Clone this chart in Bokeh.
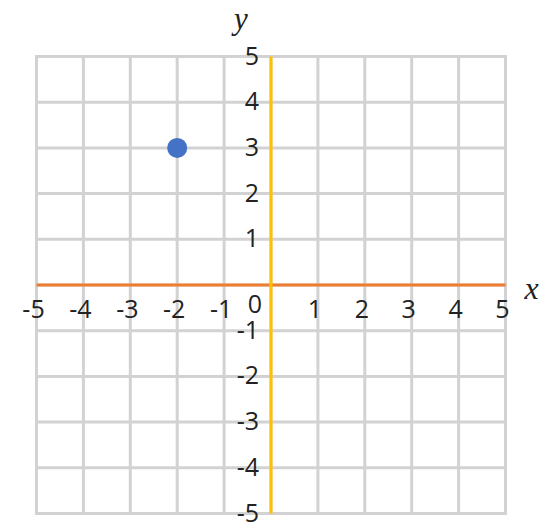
from bokeh.plotting import figure
from bokeh.models import Range1d
from bokeh.core.properties import value
from bokeh.embed import file_html
from bokeh.resources import INLINE

# ---- data ----
x_ticks = [-5, -4, -3, -2, -1, 0, 1, 2, 3, 4, 5]
y_ticks = [-5, -4, -3, -2, -1, 0, 1, 2, 3, 4, 5]
x_tick_labels = ["-5", "-4", "-3", "-2", "-1", "0", "1", "2", "3", "4", "5"]
y_tick_labels = ["-5", "-4", "-3", "-2", "-1", "0", "1", "2", "3", "4", "5"]
point_x = [-2]
point_y = [3]
x_title = "x"
y_title = "y"

# ---- layout ----
W, H = 552, 522
sx, sy = 46.9, 45.7            # pixels per unit
x_lo = -5 - 36 / sx
x_hi = x_lo + W / sx
y_hi = 5 + 56 / sy
y_lo = y_hi - H / sy

p = figure(width=W, height=H, x_range=Range1d(x_lo, x_hi), y_range=Range1d(y_lo, y_hi),
           output_backend="svg", toolbar_location=None, min_border=0,
           x_axis_type=None, y_axis_type=None, outline_line_color=None,
           background_fill_color="white", border_fill_color="white")
p.grid.visible = False

xmin, xmax = min(x_ticks), max(x_ticks)
ymin, ymax = min(y_ticks), max(y_ticks)

GRID = "#d2d2d2"
# vertical grid lines
p.segment(x0=x_ticks, y0=[ymin] * len(x_ticks), x1=x_ticks, y1=[ymax] * len(x_ticks),
          line_color=GRID, line_width=3, line_cap="square")
# horizontal grid lines
p.segment(x0=[xmin] * len(y_ticks), y0=y_ticks, x1=[xmax] * len(y_ticks), y1=y_ticks,
          line_color=GRID, line_width=3, line_cap="square")

# axes lines
p.segment(x0=[xmin], y0=[0], x1=[xmax], y1=[0], line_color="#ed7d31", line_width=3)
p.segment(x0=[0], y0=[ymin], x1=[0], y1=[ymax], line_color="#ffc000", line_width=3)

# point
p.scatter(point_x, point_y, size=20, fill_color="#4472c4", line_color=None)

FONT = value("Open Sans")
FS = "25px"
TC = "#222222"

# x tick labels (excluding 0)
xl = [(t, s) for t, s in zip(x_ticks, x_tick_labels) if t != 0]
p.text(x=[t for t, _ in xl], y=[0] * len(xl), text=[s for _, s in xl],
       text_align="center", text_baseline="middle", x_offset=-3, y_offset=24,
       text_font=FONT, text_font_size=FS, text_color=TC)

# y tick labels (excluding 0)
yl = [(t, s) for t, s in zip(y_ticks, y_tick_labels) if t != 0]
p.text(x=[0] * len(yl), y=[t for t, _ in yl], text=[s for _, s in yl],
       text_align="right", text_baseline="middle", x_offset=-12, y_offset=-1,
       text_font=FONT, text_font_size=FS, text_color=TC)

# origin label
p.text(x=[0], y=[0], text=[x_tick_labels[x_ticks.index(0)]],
       text_align="center", text_baseline="middle", x_offset=-16, y_offset=19,
       text_font=FONT, text_font_size=FS, text_color=TC)

# axis titles
p.text(x=[0], y=[ymax], text=[y_title], text_align="center", text_baseline="middle",
       x_offset=-30, y_offset=-38, text_font=value("Liberation Serif"),
       text_font_style="italic", text_font_size="31px", text_color=TC)
p.text(x=[xmax], y=[0], text=[x_title], text_align="center", text_baseline="middle",
       x_offset=26, y_offset=3, text_font=value("Liberation Serif"),
       text_font_style="italic", text_font_size="32px", text_color=TC)

open("out.html", "w").write(file_html(p, INLINE))
